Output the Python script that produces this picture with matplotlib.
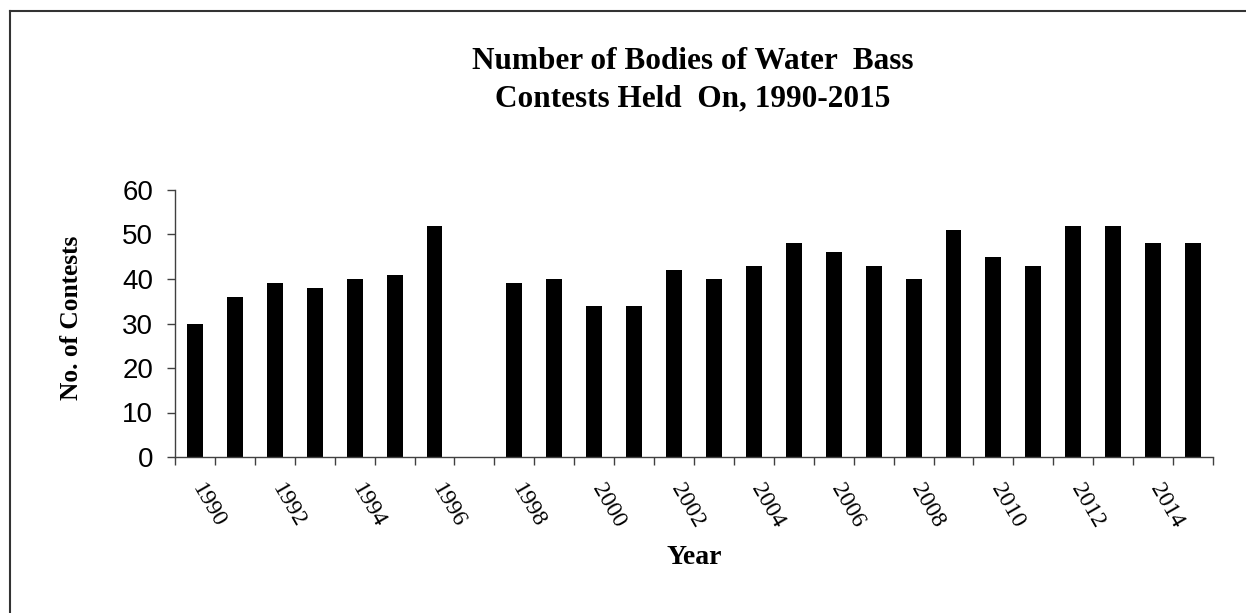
"""Bar chart of bodies of water bass contests were held on, 1990-2015."""

import numpy as np
import matplotlib
matplotlib.use('Agg')
import matplotlib.pyplot as plt
from matplotlib.lines import Line2D
from matplotlib.transforms import ScaledTranslation, blended_transform_factory

years = list(range(1990, 2016))
# 1997 has no bar in the source chart
contests = [30, 36, 39, 38, 40, 41, 52, np.nan, 39, 40, 34, 34, 42, 40,
            43, 48, 46, 43, 40, 51, 45, 43, 52, 52, 48, 48]
label_years = years[::2]
y_ticks = [0, 10, 20, 30, 40, 50, 60]

SERIF = 'Liberation Serif'
SANS = 'Liberation Sans'
AXIS_GREY = '#404040'
W, H = 1246, 613


def main():
    fig = plt.figure(figsize=(W / 100, H / 100), dpi=100)
    ax = fig.add_axes([175 / W, 1 - 457 / H, 1038 / W, 267 / H])

    pos = np.arange(len(years))
    ax.bar(pos, contests, width=0.4, color='black')
    ax.set_xlim(-0.5, len(years) - 0.5)
    ax.set_ylim(y_ticks[0], y_ticks[-1])

    for side in ('top', 'right'):
        ax.spines[side].set_visible(False)
    for side in ('left', 'bottom'):
        ax.spines[side].set_color(AXIS_GREY)
        ax.spines[side].set_linewidth(1.0)

    # category boundary ticks, Excel style
    ax.set_xticks(np.arange(len(years) + 1) - 0.5)
    ax.set_xticklabels([])
    ax.set_yticks(y_ticks)
    ax.set_yticklabels([str(v) for v in y_ticks], fontfamily=SANS, fontsize=20)
    ax.tick_params(axis='both', direction='out', length=5.8, width=1.0,
                   color=AXIS_GREY)
    ax.tick_params(axis='y', pad=10)

    trans = blended_transform_factory(ax.transData, ax.transAxes)
    trans = trans + ScaledTranslation(-0.07, -0.23, fig.dpi_scale_trans)
    for yr in label_years:
        ax.text(years.index(yr), 0, str(yr), transform=trans, rotation=-60,
                ha='left', va='top', fontfamily=SERIF, fontsize=17)

    fig.text(694 / W, 1 - 558 / H, 'Year', ha='center', va='center',
             fontfamily=SERIF, fontweight='bold', fontsize=20)
    fig.text(72 / W, 1 - 318 / H, 'No. of Contests', rotation=90,
             ha='center', va='center', fontfamily=SERIF, fontweight='bold',
             fontsize=18.3)
    fig.text(693 / W, 1 - 80 / H,
             'Number of Bodies of Water  Bass\nContests Held  On, 1990-2015',
             ha='center', va='center', fontfamily=SERIF, fontweight='bold',
             fontsize=22.5, linespacing=1.39)

    # partial outer frame (left and top edges only)
    fx, fy = 9.5 / W, 1 - 10.5 / H
    fig.add_artist(Line2D([fx, fx], [0, fy], color='#333333', lw=1.5))
    fig.add_artist(Line2D([fx, 1], [fy, fy], color='#333333', lw=1.5))

    fig.savefig('out.png', dpi=100)


if __name__ == '__main__':
    main()
